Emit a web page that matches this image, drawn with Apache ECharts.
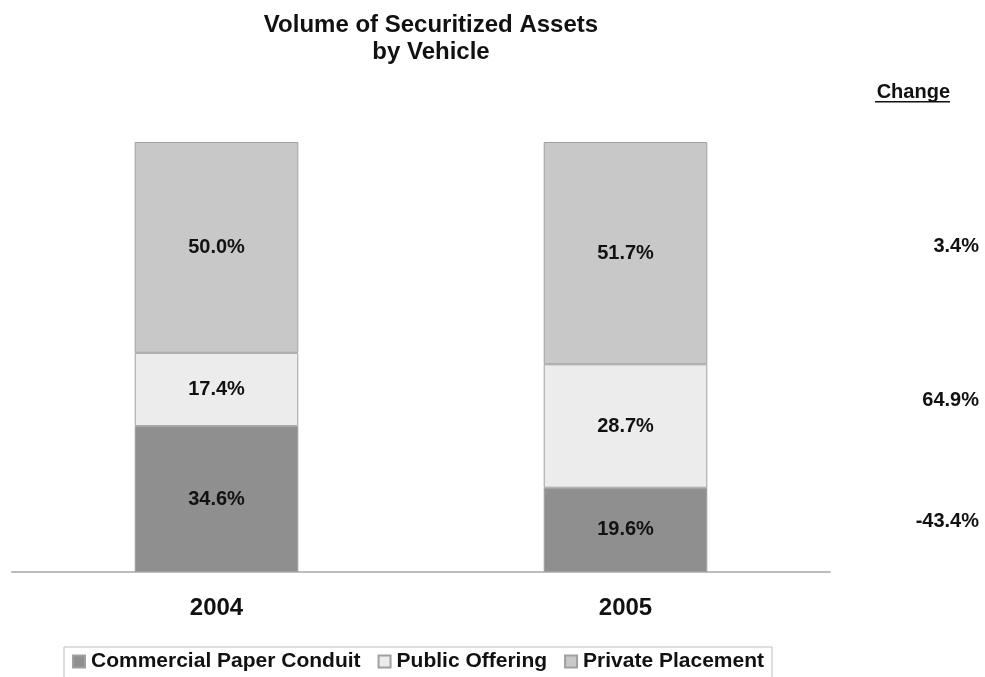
<!DOCTYPE html>
<html>
<head>
<meta charset="utf-8">
<script src="https://cdn.jsdelivr.net/npm/echarts@6/dist/echarts.min.js"></script>
<style>
  html, body { margin: 0; padding: 0; background: #ffffff; }
  #chart { width: 985px; height: 677px; }
</style>
</head>
<body>
<div id="chart"></div>
<script>
// Share of securitized assets by vehicle (percent of each year's total)
const years = ['2004', '2005'];
const seriesNames = ['Commercial Paper Conduit', 'Public Offering', 'Private Placement'];
const commercialPaper = [34.6, 19.6];
const publicOffering = [17.4, 28.7];
const privatePlacement = [50.0, 51.7];
// Year-over-year change, top to bottom: Private Placement, Public Offering, Commercial Paper
const changeLabels = ['3.4%', '64.9%', '-43.4%'];

const colors = ['#8f8f8f', '#ececec', '#c8c8c8'];
const raw = [commercialPaper, publicOffering, privatePlacement];

// 100% stacked: each column is scaled to its own total
const totals = years.map((_, i) => raw.reduce((s, arr) => s + arr[i], 0));

const FONT = '"Liberation Sans", Arial, sans-serif';

const series = raw.map((arr, k) => ({
  name: seriesNames[k],
  type: 'bar',
  stack: 'share',
  barWidth: '40%',
  itemStyle: { color: colors[k], borderColor: '#a0a0a0', borderWidth: 1 },
  label: {
    show: true,
    position: 'inside',
    color: '#111',
    fontFamily: FONT,
    fontWeight: 'bold',
    fontSize: 20,
    formatter: p => arr[p.dataIndex].toFixed(1) + '%'
  },
  data: arr.map((v, i) => v / totals[i] * 100)
}));

const chart = echarts.init(document.getElementById('chart'));

// "Change" column beside the plot
const changeY = [246, 400, 521];
const graphics = [{
  type: 'text',
  x: 950,
  y: 92,
  style: {
    text: 'Change',
    align: 'right',
    verticalAlign: 'middle',
    fontFamily: FONT,
    fontWeight: 'bold',
    fontSize: 20,
    fill: '#111'
  }
}, {
  type: 'rect',
  shape: { x: 875, y: 101, width: 75, height: 1.6 },
  style: { fill: '#111' }
}].concat(changeLabels.map((t, i) => ({
  type: 'text',
  x: 979,
  y: changeY[i],
  style: {
    text: t,
    align: 'right',
    verticalAlign: 'middle',
    fontFamily: FONT,
    fontWeight: 'bold',
    fontSize: 20,
    fill: '#111'
  }
})));

chart.setOption({
  animation: false,
  backgroundColor: '#ffffff',
  title: {
    text: 'Volume of Securitized Assets\nby Vehicle',
    left: 426,
    textAlign: 'center',
    top: 7,
    textStyle: {
      fontFamily: FONT,
      fontWeight: 'bold',
      fontSize: 24,
      lineHeight: 27,
      color: '#111'
    }
  },
  grid: { left: 12, right: 155, top: 142, bottom: 105, containLabel: false },
  xAxis: {
    type: 'category',
    data: years,
    axisLine: { lineStyle: { color: '#bdbdbd', width: 2 } },
    axisTick: { show: false },
    axisLabel: {
      margin: 24,
      fontFamily: FONT,
      fontWeight: 'bold',
      fontSize: 24,
      color: '#111'
    }
  },
  yAxis: {
    type: 'value',
    min: 0,
    max: 100,
    show: false,
    splitLine: { show: false }
  },
  legend: {
    data: seriesNames,
    left: 64,
    top: 647,
    itemWidth: 12,
    itemHeight: 12,
    itemGap: 17,
    padding: [4, 8, 8, 8],
    borderColor: '#bdbdbd',
    borderWidth: 1,
    icon: 'rect',
    textStyle: {
      fontFamily: FONT,
      fontWeight: 'bold',
      fontSize: 21,
      color: '#111',
      padding: [0, 0, 0, 1]
    }
  },
  graphic: graphics,
  series: series
});
</script>
</body>
</html>
